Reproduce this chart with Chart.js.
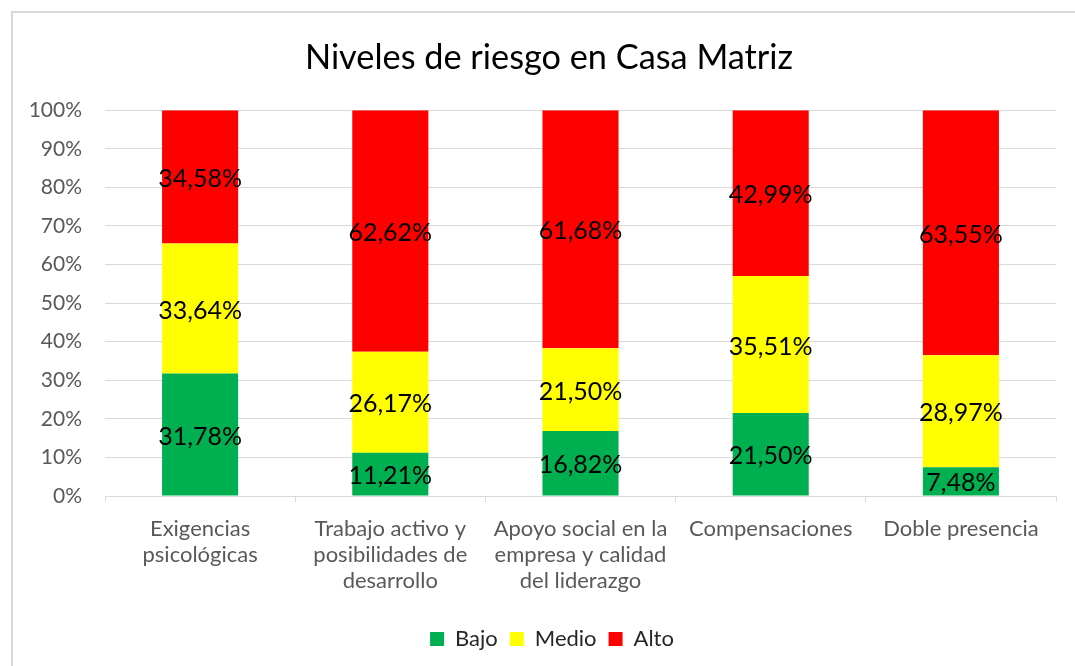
<!DOCTYPE html>
<html>
<head>
<meta charset="utf-8">
<script src="https://cdn.jsdelivr.net/npm/chart.js@4"></script>
<style>
  body { margin: 0; background: #fff; }
  #frame { position: absolute; left: 11px; top: 11px; width: 1100px; height: 700px; border: 2px solid #d9d9d9; }
  #wrap { position: absolute; left: 0; top: 0; width: 1075px; height: 666px; }
</style>
</head>
<body>
<div id="frame"></div>
<div id="wrap"><canvas id="riesgoChart"></canvas></div>
<script>
// Datos del gráfico
const categorias = [
    ['Exigencias', 'psicológicas'],
    ['Trabajo activo y', 'posibilidades de', 'desarrollo'],
    ['Apoyo social en la', 'empresa y calidad', 'del liderazgo'],
    'Compensaciones',
    'Doble presencia'
];
const bajo = [31.78, 11.21, 16.82, 21.50, 7.48];
const medio = [33.64, 26.17, 21.50, 35.51, 28.97];
const alto = [34.58, 62.62, 61.68, 42.99, 63.55];

const fuente = 'Lato, "Open Sans", sans-serif';

// Etiquetas de datos centradas en cada segmento
const etiquetas = {
    id: 'etiquetas',
    afterDatasetsDraw(chart) {
        const c = chart.ctx;
        c.save();
        c.font = '25px ' + fuente;
        c.fillStyle = '#000';
        c.textAlign = 'center';
        c.textBaseline = 'middle';
        chart.data.datasets.forEach((ds, i) => {
            chart.getDatasetMeta(i).data.forEach((bar, j) => {
                const p = bar.getProps(['x', 'y', 'base'], true);
                const txt = ds.data[j].toFixed(2).replace('.', ',') + '%';
                c.fillText(txt, p.x, (p.y + p.base) / 2 + 2);
            });
        });
        c.restore();
    }
};

// Título y leyenda algo corridos a la derecha, como en el original
const centrado = {
    id: 'centrado',
    afterLayout(chart) {
        chart.titleBlock.left += 42;
        chart.legend.left += 48;
    }
};

const ctx = document.getElementById('riesgoChart').getContext('2d');
const riesgoChart = new Chart(ctx, {
    type: 'bar',
    data: {
        labels: categorias,
        datasets: [
            { label: 'Bajo', data: bajo, backgroundColor: '#00B050' },
            { label: 'Medio', data: medio, backgroundColor: '#FFFF00' },
            { label: 'Alto', data: alto, backgroundColor: '#FF0000' }
        ]
    },
    options: {
        responsive: true,
        maintainAspectRatio: false,
        animation: false,
        layout: { padding: { left: 0, right: 19, top: 0, bottom: 6 } },
        datasets: { bar: { categoryPercentage: 1, barPercentage: 0.4 } },
        scales: {
            x: {
                stacked: true,
                afterFit: s => { s.height = 120; },
                grid: { drawOnChartArea: false, drawTicks: true, tickLength: 6, color: '#d9d9d9', offset: true },
                border: { color: '#d9d9d9', width: 1 },
                ticks: { color: '#595959', font: { family: fuente, size: 22, lineHeight: 1.18 }, padding: 14, maxRotation: 0, autoSkip: false }
            },
            y: {
                stacked: true,
                min: 0,
                max: 100,
                afterFit: s => { s.width = 105; },
                grid: { color: '#d9d9d9', drawTicks: false },
                border: { display: false },
                ticks: {
                    stepSize: 10,
                    padding: 23,
                    color: '#595959',
                    font: { family: fuente, size: 21 },
                    callback: v => v + '%'
                }
            }
        },
        plugins: {
            title: {
                display: true,
                text: 'Niveles de riesgo en Casa Matriz',
                color: '#000',
                font: { family: fuente, size: 34.3, weight: 'normal' },
                padding: { top: 37, bottom: 32 }
            },
            legend: {
                position: 'bottom',
                labels: { color: '#262626', boxWidth: 14, boxHeight: 14, padding: 12, font: { family: fuente, size: 22 } }
            },
            tooltip: { enabled: false }
        }
    },
    plugins: [etiquetas, centrado]
});
</script>
</body>
</html>
